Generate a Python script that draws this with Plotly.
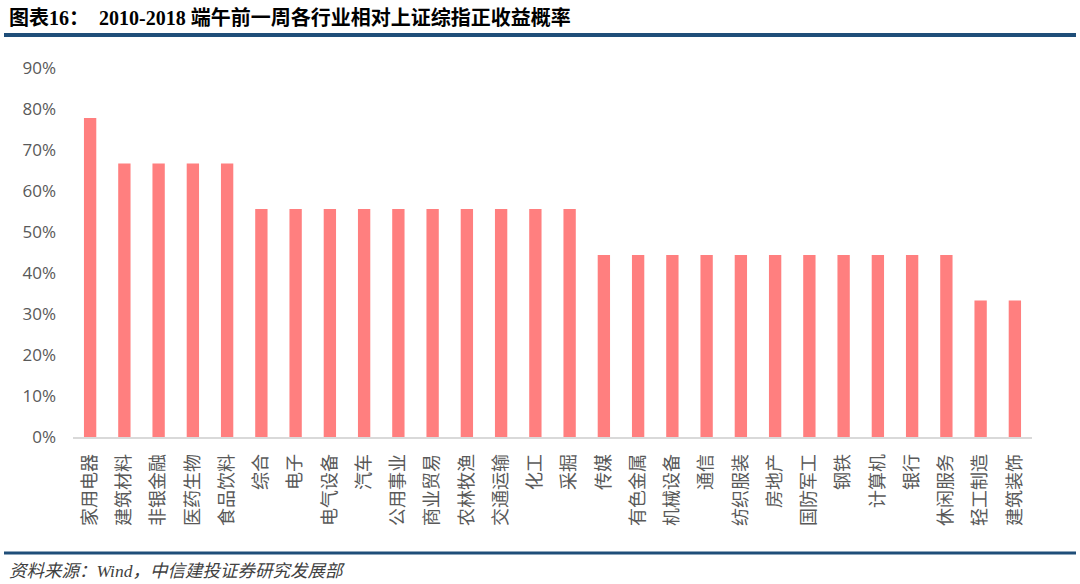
import plotly.graph_objects as go

categories = ["家用电器", "建筑材料", "非银金融", "医药生物", "食品饮料", "综合", "电子", "电气设备",
              "汽车", "公用事业", "商业贸易", "农林牧渔", "交通运输", "化工", "采掘", "传媒",
              "有色金属", "机械设备", "通信", "纺织服装", "房地产", "国防军工", "钢铁", "计算机",
              "银行", "休闲服务", "轻工制造", "建筑装饰"]
values = [0.778, 0.667, 0.667, 0.667, 0.667, 0.556, 0.556, 0.556,
          0.556, 0.556, 0.556, 0.556, 0.556, 0.556, 0.556, 0.444,
          0.444, 0.444, 0.444, 0.444, 0.444, 0.444, 0.444, 0.444,
          0.444, 0.444, 0.333, 0.333]
y_ticks = [0, 0.1, 0.2, 0.3, 0.4, 0.5, 0.6, 0.7, 0.8, 0.9]
y_tick_labels = ["0%", "10%", "20%", "30%", "40%", "50%", "60%", "70%", "80%", "90%"]

title_text = "<b>图表16：  2010-2018 端午前一周各行业相对上证综指正收益概率</b>"
source_text = "<i>资料来源：Wind，中信建投证券研究发展部</i>"

W, H = 1080, 584
L, R, T, B = 73, 1032, 68, 437

def px_x(x):
    return (x - L) / (R - L)

def px_y(y):
    return (B - y) / (B - T)

fig = go.Figure(go.Bar(x=categories, y=values, marker_color="#FF7F7F",
                       marker_line_width=0))

fig.update_layout(
    width=W, height=H,
    margin=dict(l=L, r=W - R, t=T, b=H - B),
    paper_bgcolor="white", plot_bgcolor="white",
    bargap=0.64,
    showlegend=False,
    font=dict(family="Noto Sans CJK SC", color="#595959"),
    xaxis=dict(tickangle=-90, tickfont=dict(size=18, color="#595959", family="Noto Sans CJK SC"),
               showline=True, linecolor="#D9D9D9", linewidth=1.5, ticks="",
               showgrid=False, ticklabelstandoff=8),
    yaxis=dict(range=[0, 0.9], tickvals=y_ticks, ticktext=y_tick_labels,
               tickfont=dict(size=17, color="#595959", family="Open Sans"),
               showgrid=False, zeroline=False, showline=False, ticks="",
               ticklabelstandoff=16),
    shapes=[
        dict(type="line", xref="paper", yref="paper", x0=px_x(4), x1=px_x(1076),
             y0=px_y(35), y1=px_y(35), line=dict(color="#1F4E79", width=4)),
        dict(type="line", xref="paper", yref="paper", x0=px_x(4), x1=px_x(1076),
             y0=px_y(553), y1=px_y(553), line=dict(color="#1F4E79", width=3)),
    ],
    annotations=[
        dict(text=title_text, xref="paper", yref="paper", x=px_x(7), y=px_y(17),
             xanchor="left", yanchor="middle", showarrow=False,
             font=dict(size=20, color="#000000", family="Liberation Serif, Noto Sans CJK SC")),
        dict(text=source_text, xref="paper", yref="paper", x=px_x(7), y=px_y(571),
             xanchor="left", yanchor="middle", showarrow=False,
             font=dict(size=17.5, color="#404040", family="Liberation Serif, Noto Sans CJK SC")),
    ],
)

fig.write_html("out.html")
